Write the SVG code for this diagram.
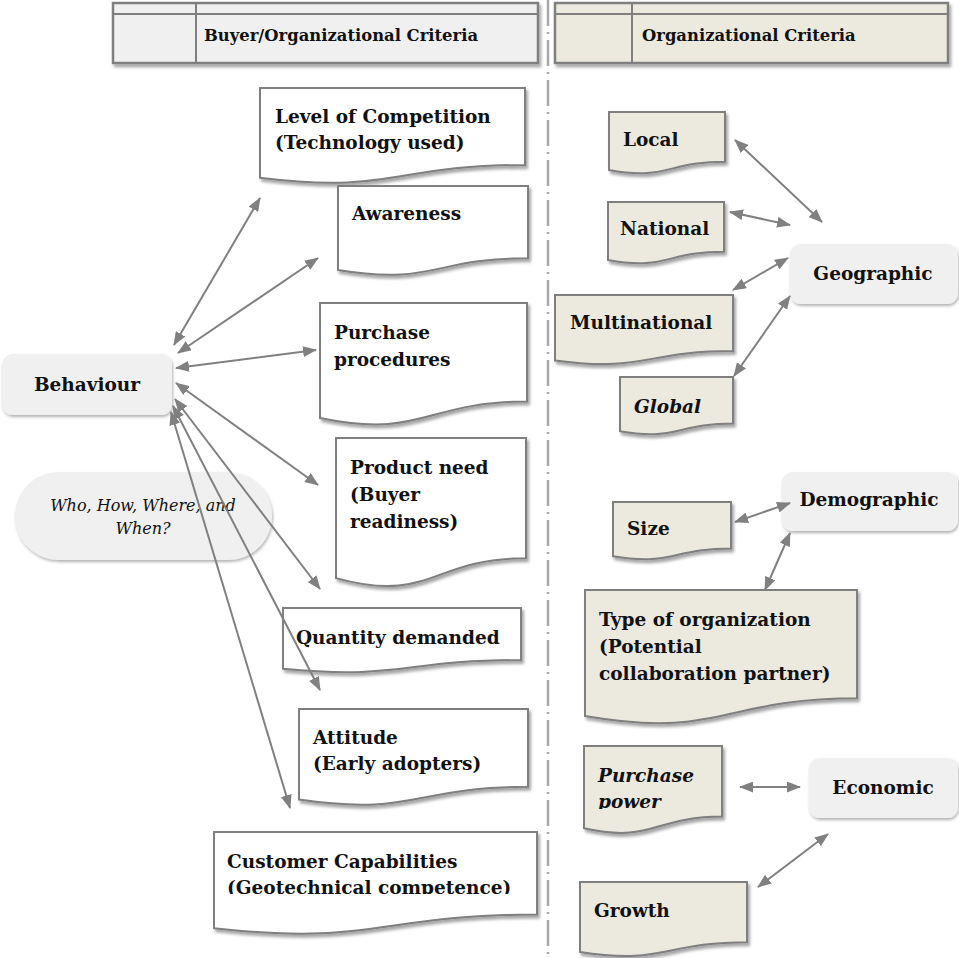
<svg xmlns="http://www.w3.org/2000/svg" width="959" height="958" viewBox="0 0 959 958">
<style>
.t{font-family:"DejaVu Serif","Liberation Serif",serif;font-weight:bold;font-size:18.5px;fill:#111}
.it{font-style:italic}
.hd{font-size:16.4px}
.wh{font-weight:normal;font-size:16px}
.doc{fill:#fff;stroke:#7f7f7f;stroke-width:2;filter:url(#sh)}
.bdoc{fill:#ece9df;stroke:#7f7f7f;stroke-width:2;filter:url(#sh)}
.rr{fill:#f0f0f0;stroke:none;filter:url(#sh2)}
.con line{stroke:#808080;stroke-width:2;marker-start:url(#ah);marker-end:url(#ah)}
.hdr{stroke:#7f7f7f;stroke-width:2.5;filter:url(#sh)}
</style>
<defs>
<filter id="sh" x="-10%" y="-10%" width="125%" height="130%">
<feDropShadow dx="2" dy="3" stdDeviation="1.5" flood-color="#000" flood-opacity="0.35"/>
</filter>
<filter id="sh2" x="-10%" y="-10%" width="125%" height="130%">
<feDropShadow dx="1" dy="2" stdDeviation="1.5" flood-color="#000" flood-opacity="0.3"/>
</filter>
<marker id="ah" viewBox="0 0 14 11" refX="13" refY="5.5" markerWidth="14" markerHeight="11" markerUnits="userSpaceOnUse" orient="auto-start-reverse">
<path d="M0,0 L14,5.5 L0,11 Z" fill="#808080"/>
</marker>
<clipPath id="c1"><rect x="200" y="870" width="340" height="24"/></clipPath>
<clipPath id="c2"><rect x="590" y="788" width="130" height="21"/></clipPath>
</defs>

<line x1="548" y1="0" x2="548" y2="958" stroke="#a8a8a8" stroke-width="2.5" stroke-dasharray="26 6 2 6"/>

<g id="header-left">
<rect class="hdr" x="113" y="3" width="425" height="60" fill="#f0f0f0"/>
<line x1="113" y1="14" x2="538" y2="14" stroke="#7f7f7f" stroke-width="2"/>
<line x1="196" y1="3" x2="196" y2="63" stroke="#7f7f7f" stroke-width="2"/>
<text class="t hd" x="204" y="41">Buyer/Organizational Criteria</text>
</g>
<g id="header-right">
<rect class="hdr" x="555" y="3" width="393" height="60" fill="#ece9df"/>
<line x1="555" y1="14" x2="948" y2="14" stroke="#7f7f7f" stroke-width="2"/>
<line x1="632" y1="3" x2="632" y2="63" stroke="#7f7f7f" stroke-width="2"/>
<text class="t hd" x="642" y="41">Organizational Criteria</text>
</g>

<g id="behaviour">
<rect class="rr" x="2" y="354" width="170" height="61" rx="11"/>
<text class="t" x="87" y="391" text-anchor="middle">Behaviour</text>
</g>
<g id="who">
<rect class="rr" x="15" y="472" width="257" height="88" rx="44"/>
<text class="t it wh" x="143" y="511" text-anchor="middle">Who, How, Where, and</text>
<text class="t it wh" x="143" y="534" text-anchor="middle">When?</text>
</g>

<g id="level-of-competition">
<path class="doc" d="M260,88 H525 V165 C392.5,165 392.5,194.3 260,177.7 Z"/>
<text class="t" x="275" y="123">Level of Competition</text>
<text class="t" x="275" y="149">(Technology used)</text>
</g>
<g id="awareness">
<path class="doc" d="M338,186 H528 V258.2 C433,258.2 433,285.7 338,270.1 Z"/>
<text class="t" x="352" y="220">Awareness</text>
</g>
<g id="purchase-procedures">
<path class="doc" d="M320,303 H527 V401.6 C423.5,401.6 423.5,439.2 320,417.9 Z"/>
<text class="t" x="334" y="339">Purchase</text>
<text class="t" x="334" y="366">procedures</text>
</g>
<g id="product-need">
<path class="doc" d="M336,438 H526 V558.3 C431,558.3 431,604.1 336,578.1 Z"/>
<text class="t" x="350" y="474">Product need</text>
<text class="t" x="350" y="501">(Buyer</text>
<text class="t" x="350" y="528">readiness)</text>
</g>
<g id="quantity-demanded">
<path class="doc" d="M283,608 H521 V660.1 C402,660.1 402,680 283,668.7 Z"/>
<text class="t" x="296" y="644">Quantity demanded</text>
</g>
<g id="attitude">
<path class="doc" d="M299,709 H528 V786.8 C413.5,786.8 413.5,816.4 299,799.6 Z"/>
<text class="t" x="313" y="744">Attitude</text>
<text class="t" x="313" y="770">(Early adopters)</text>
</g>
<g id="customer-capabilities">
<path class="doc" d="M214,832 H537 V914.6 C375.5,914.6 375.5,946.1 214,928.2 Z"/>
<text class="t" x="227" y="868">Customer Capabilities</text>
<text class="t" x="227" y="894" clip-path="url(#c1)">(Geotechnical competence)</text>
</g>

<g id="local">
<path class="bdoc" d="M609,112 H725 V161.7 C667,161.7 667,180.7 609,169.9 Z"/>
<text class="t" x="623" y="146">Local</text>
</g>
<g id="national">
<path class="bdoc" d="M608,202 H724 V251.7 C666,251.7 666,270.7 608,259.9 Z"/>
<text class="t" x="620" y="235">National</text>
</g>
<g id="multinational">
<path class="bdoc" d="M555,295 H733 V351.1 C644,351.1 644,372.5 555,360.4 Z"/>
<text class="t" x="570" y="329">Multinational</text>
</g>
<g id="global">
<path class="bdoc" d="M620,377 H733 V423.5 C676.5,423.5 676.5,441.2 620,431.2 Z"/>
<text class="t it" x="634" y="413">Global</text>
</g>
<g id="geographic">
<rect class="rr" x="790" y="244" width="168" height="60" rx="11"/>
<text class="t" x="873" y="280" text-anchor="middle">Geographic</text>
</g>

<g id="size">
<path class="bdoc" d="M613,502 H731 V548.5 C672,548.5 672,566.2 613,556.2 Z"/>
<text class="t" x="627" y="535">Size</text>
</g>
<g id="demographic">
<rect class="rr" x="782" y="472" width="176" height="59" rx="11"/>
<text class="t" x="869" y="506" text-anchor="middle">Demographic</text>
</g>
<g id="type-of-organization">
<path class="bdoc" d="M585,590 H857 V698.3 C721,698.3 721,739.5 585,716.1 Z"/>
<text class="t" x="599" y="626">Type of organization</text>
<text class="t" x="599" y="653">(Potential</text>
<text class="t" x="599" y="680">collaboration partner)</text>
</g>

<g id="purchase-power">
<path class="bdoc" d="M584,746 H722 V816.6 C653,816.6 653,843.5 584,828.2 Z"/>
<text class="t it" x="598" y="782">Purchase</text>
<text class="t it" x="598" y="808" clip-path="url(#c2)">power</text>
</g>
<g id="economic">
<rect class="rr" x="809" y="758" width="149" height="60" rx="11"/>
<text class="t" x="883" y="794" text-anchor="middle">Economic</text>
</g>
<g id="growth">
<path class="bdoc" d="M580,882 H747 V942.2 C663.5,942.2 663.5,965.1 580,952 Z"/>
<text class="t" x="594" y="917">Growth</text>
</g>

<g id="connectors" class="con">
<line x1="174" y1="345" x2="260" y2="198"/>
<line x1="178" y1="353" x2="318" y2="258"/>
<line x1="176" y1="368" x2="316" y2="350"/>
<line x1="176" y1="383" x2="318" y2="485"/>
<line x1="175" y1="399" x2="320" y2="589"/>
<line x1="173" y1="406" x2="320" y2="690"/>
<line x1="171" y1="412" x2="290" y2="808"/>
<line x1="735" y1="140" x2="822" y2="222"/>
<line x1="730" y1="212" x2="790" y2="225"/>
<line x1="733" y1="290" x2="788" y2="258"/>
<line x1="734" y1="376" x2="790" y2="296"/>
<line x1="735" y1="522" x2="790" y2="503"/>
<line x1="765" y1="590" x2="790" y2="533"/>
<line x1="740" y1="787" x2="800" y2="787"/>
<line x1="758" y1="887" x2="828" y2="834"/>
</g>
</svg>
